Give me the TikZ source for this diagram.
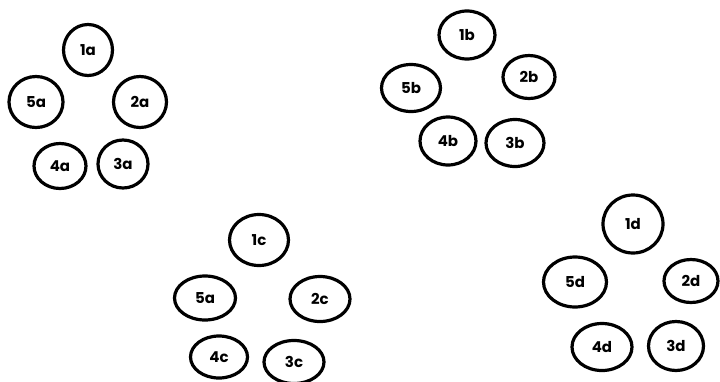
\documentclass[tikz,border=0pt]{standalone}
\usepackage{fontspec}
\setsansfont{Poppins}
\usepackage{tikz}
\usetikzlibrary{shapes.geometric}

\tikzset{
    blob/.style 2 args={ellipse, draw, line width=3.2pt, inner sep=0pt,
        minimum width=#1pt, minimum height=#2pt,
        font=\sffamily\bfseries\fontsize{15}{15}\selectfont}
}

\begin{document}
\begin{tikzpicture}[x=1pt, y=-1pt]
    \useasboundingbox (0,0) rectangle (720,381);

    % Group a
    \node[blob={49}{51}] (a1) at (88,50) {1a};
    \node[blob={53}{51}] (a2) at (140,102) {2a};
    \node[blob={50}{48}] (a3) at (123,164) {3a};
    \node[blob={52}{45}] (a4) at (60,166) {4a};
    \node[blob={54}{51}] (a5) at (36,102) {5a};

    % Group b
    \node[blob={56}{48}] (b1) at (467,35) {1b};
    \node[blob={52}{43}] (b2) at (529,77) {2b};
    \node[blob={58}{47}] (b3) at (515,143) {3b};
    \node[blob={56}{48}] (b4) at (448,141) {4b};
    \node[blob={59}{47}] (b5) at (411,88) {5b};

    % Group c
    \node[blob={59}{51}] (c1) at (259,240) {1c};
    \node[blob={60}{45}] (c2) at (320,299) {2c};
    \node[blob={60}{43}] (c3) at (294,362) {3c};
    \node[blob={57}{42}] (c4) at (219,357) {4c};
    \node[blob={61}{44}] (c5) at (205,298) {5a};

    % Group d
    \node[blob={60}{58}] (d1) at (633,224) {1d};
    \node[blob={54}{43}] (d2) at (691,281) {2d};
    \node[blob={55}{49}] (d3) at (676,346) {3d};
    \node[blob={60}{47}] (d4) at (602,347) {4d};
    \node[blob={63}{50}] (d5) at (575,282) {5d};
\end{tikzpicture}
\end{document}
